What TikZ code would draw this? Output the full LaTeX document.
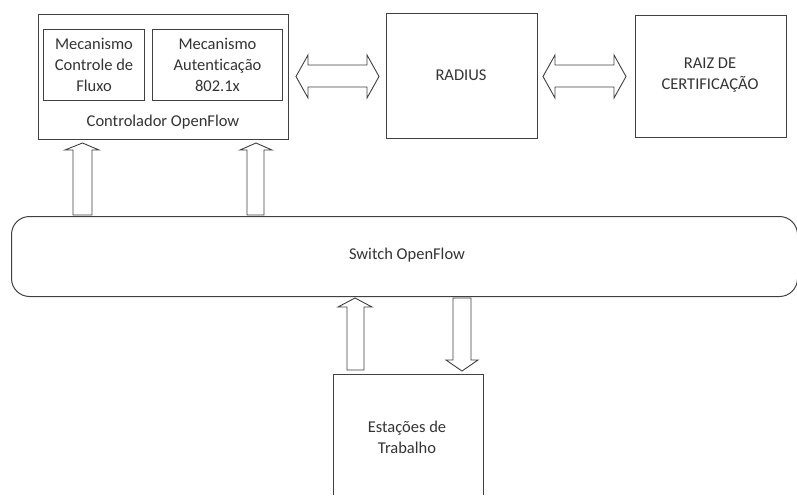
\documentclass[tikz,border=0pt]{standalone}
\usepackage{fontspec}
\setmainfont{Carlito}[Ligatures={NoCommon,NoRequired,NoContextual}]
\begin{document}
\begin{tikzpicture}[x=1pt,y=-1pt,
  box/.style={draw=black!75,line width=1pt,inner sep=0pt,anchor=north west},
  blk/.style={draw=black!75,line width=0.9pt,fill=white,line join=miter},
  lbl/.style={font=\fontsize{16.5}{21}\selectfont,text=black!80,align=center,inner sep=0pt}]
\useasboundingbox (0,0) rectangle (797,495);
% controller
\node[box,minimum width=250pt,minimum height=125pt] (ctrl) at (38,14) {};
\node[box,minimum width=101pt,minimum height=71pt] (fbox) at (43,29) {};
\node[box,minimum width=130pt,minimum height=71pt] (abox) at (152,29) {};
\node[lbl] (mcf) at (fbox.center) {Mecanismo\\Controle de\\Fluxo};
\node[lbl] (mau) at (abox.center) {Mecanismo\\Autenticação\\802.1x};
\node[lbl] (ctl) at (163,122) {Controlador OpenFlow};
% radius and root
\node[box,minimum width=151pt,minimum height=125pt] (radbox) at (386,13) {};
\node[lbl] (rad) at (461,75) {RADIUS};
\node[box,minimum width=151pt,minimum height=122pt] (raizbox) at (635,15) {};
\node[lbl] (raiz) at (710,75) {RAIZ DE\\CERTIFICAÇÃO};
% switch
\node[box,rounded corners=18pt,minimum width=786pt,minimum height=80pt] (swbox) at (11,216) {};
\node[lbl] (sw) at (407,255) {Switch OpenFlow};
% stations (open at the bottom)
\draw[box] (333,495) -- (333,374) coordinate (estl) -- (483,374) coordinate (estr) -- (483,495);
\node[lbl] (est) at (407,437) {Estações de\\Trabalho};
% up arrows from switch to controller
\draw[blk] (73,215) -- (73,150) -- (65,150) -- (82.5,143) -- (99,150) -- (92,150) -- (92,215) -- cycle;
\draw[blk] (247,215) -- (247,150) -- (240,150) -- (256,143) -- (272,150) -- (264,150) -- (264,215) -- cycle;
% double arrows controller <-> radius <-> root
\draw[blk] (296,76.5) -- (308,55) -- (308,65) -- (367,65) -- (367,55) -- (379,76.5) -- (367,98) -- (367,87) -- (308,87) -- (308,98) -- cycle;
\draw[blk] (543,76.5) -- (555,55) -- (555,65) -- (614,65) -- (614,55) -- (626,76.5) -- (614,98) -- (614,87) -- (555,87) -- (555,98) -- cycle;
% station arrows
\draw[blk] (347,370) -- (347,307) -- (338,307) -- (355,298) -- (372,307) -- (364,307) -- (364,370) -- cycle;
\draw[blk] (453,298) -- (471,298) -- (471,360) -- (478,360) -- (462,371) -- (446,360) -- (453,360) -- cycle;
\end{tikzpicture}
\end{document}
